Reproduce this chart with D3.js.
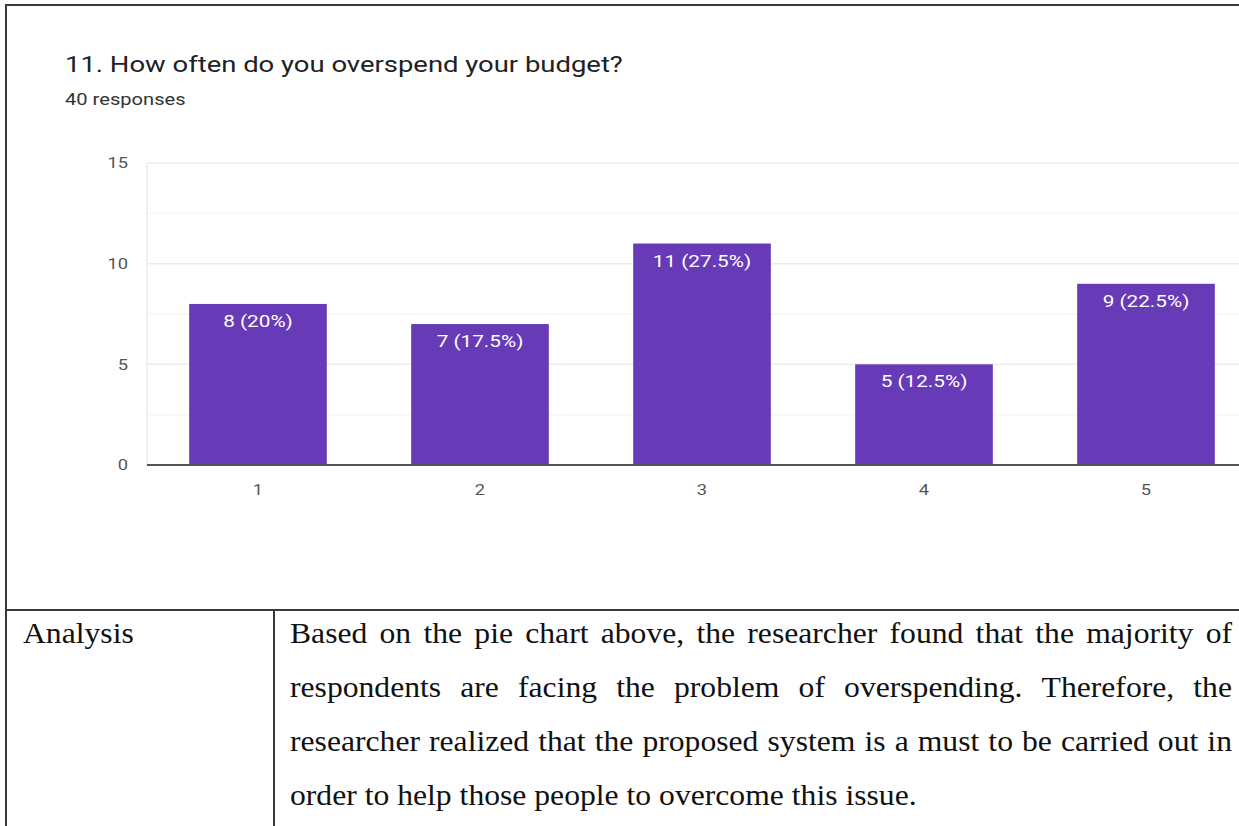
<!DOCTYPE html>
<html>
<head>
<meta charset="utf-8">
<script src="https://cdn.jsdelivr.net/npm/d3@7"></script>
<style>
  html, body { margin: 0; padding: 0; background: #fff; }
  svg { display: block; }
</style>
</head>
<body>
<svg id="chart" width="1239" height="826"></svg>
<script>
// Survey question and responses
const questionTitle = "11. How often do you overspend your budget?";
const responseNote = "40 responses";
const categories = ["1", "2", "3", "4", "5"];
const counts = [8, 7, 11, 5, 9];
const percents = ["20%", "17.5%", "27.5%", "12.5%", "22.5%"];
const yTicks = [0, 5, 10, 15];
const yMinorTicks = [2.5, 7.5, 12.5];

// Analysis table text
const rowHeader = "Analysis";
const analysisLines = [
  "Based on the pie chart above, the researcher found that the majority of",
  "respondents are facing the problem of overspending. Therefore, the",
  "researcher realized that the proposed system is a must to be carried out in",
  "order to help those people to overcome this issue."
];

const svg = d3.select("#chart");
const W = 1239, H = 826;
const sans = "Roboto, 'Open Sans', sans-serif";
const stretch = 1.22; // the embedded form screenshot is wider than tall

// Places a text horizontally stretched around its own anchor
function stretchedText(parent, px, py, sx) {
  return parent.append("g")
    .attr("transform", `translate(${px},${py}) scale(${sx},1)`)
    .append("text");
}

// Outer frame lines
const frame = svg.append("g").attr("stroke", "#3a3a3a").attr("stroke-width", 2);
frame.append("line").attr("x1", 6).attr("x2", W).attr("y1", 5).attr("y2", 5);
frame.append("line").attr("x1", 6).attr("x2", 6).attr("y1", 4).attr("y2", H);
frame.append("line").attr("x1", 6).attr("x2", W).attr("y1", 610).attr("y2", 610);
frame.append("line").attr("x1", 274).attr("x2", 274).attr("y1", 610).attr("y2", H);

// Titles
stretchedText(svg, 65, 72, stretch)
  .attr("font-family", sans)
  .attr("font-size", 22.5)
  .attr("fill", "#202124")
  .text(questionTitle);
stretchedText(svg, 65, 105, stretch)
  .attr("font-family", sans)
  .attr("font-size", 16.5)
  .attr("fill", "#333")
  .text(responseNote);

// Scales
const plotLeft = 147, plotTop = 163, plotBottom = 465;
const x = d3.scaleBand()
  .domain(categories)
  .range([plotLeft, plotLeft + 222 * 5])
  .paddingInner(0.38)
  .paddingOuter(0.19);
const y = d3.scaleLinear().domain([0, 15]).range([plotBottom, plotTop]);

// Gridlines
const grid = svg.append("g");
grid.selectAll("line.minor")
  .data(yMinorTicks)
  .join("line")
  .attr("class", "minor")
  .attr("x1", plotLeft).attr("x2", W)
  .attr("y1", d => y(d)).attr("y2", d => y(d))
  .attr("stroke", "#f6f6f6").attr("stroke-width", 1.5);
grid.selectAll("line.major")
  .data(yTicks.filter(d => d > 0))
  .join("line")
  .attr("class", "major")
  .attr("x1", plotLeft).attr("x2", W)
  .attr("y1", d => y(d)).attr("y2", d => y(d))
  .attr("stroke", "#ececec").attr("stroke-width", 1.5);
grid.append("line")
  .attr("x1", plotLeft).attr("x2", plotLeft)
  .attr("y1", plotTop).attr("y2", plotBottom)
  .attr("stroke", "#ececec").attr("stroke-width", 1.5);

// Y axis labels
svg.append("g")
  .selectAll("g")
  .data(yTicks)
  .join("g")
  .attr("transform", d => `translate(${plotLeft - 19},${y(d)}) scale(${stretch},1)`)
  .append("text")
  .attr("dy", "0.35em")
  .attr("text-anchor", "end")
  .attr("font-family", sans)
  .attr("font-size", 15)
  .attr("fill", "#555")
  .text(d => d);

// Bars
const data = categories.map((c, i) => ({ c, v: counts[i], p: percents[i] }));
svg.append("g")
  .selectAll("rect")
  .data(data)
  .join("rect")
  .attr("x", d => x(d.c))
  .attr("y", d => y(d.v))
  .attr("width", x.bandwidth())
  .attr("height", d => y(0) - y(d.v))
  .attr("fill", "#673ab7");

// Value labels inside bars
svg.append("g")
  .selectAll("g")
  .data(data)
  .join("g")
  .attr("transform", d => `translate(${x(d.c) + x.bandwidth() / 2},${y(d.v) + 23}) scale(${stretch},1)`)
  .append("text")
  .attr("text-anchor", "middle")
  .attr("font-family", sans)
  .attr("font-size", 17)
  .attr("fill", "#fff")
  .text(d => `${d.v} (${d.p})`);

// X axis labels and baseline
svg.append("g")
  .selectAll("g")
  .data(categories)
  .join("g")
  .attr("transform", d => `translate(${x(d) + x.bandwidth() / 2},${plotBottom + 30}) scale(${stretch},1)`)
  .append("text")
  .attr("text-anchor", "middle")
  .attr("font-family", sans)
  .attr("font-size", 15)
  .attr("fill", "#555")
  .text(d => d);
svg.append("line")
  .attr("x1", plotLeft).attr("x2", W)
  .attr("y1", plotBottom).attr("y2", plotBottom)
  .attr("stroke", "#555").attr("stroke-width", 2);

// Table text
const serif = "'Liberation Serif', 'Times New Roman', serif";
const serifStretch = 1.055;
stretchedText(svg, 23, 643, serifStretch)
  .attr("font-family", serif)
  .attr("font-size", 30)
  .attr("fill", "#111")
  .text(rowHeader);

// Justified paragraph: every line but the last is stretched to the column width
const paraLeft = 290, paraRight = 1232, lineGap = 54, firstBase = 643;
const para = svg.append("g")
  .attr("transform", `translate(${paraLeft},0) scale(${serifStretch},1)`)
  .attr("font-family", serif)
  .attr("font-size", 30)
  .attr("fill", "#111");
const colWidth = (paraRight - paraLeft) / serifStretch;
analysisLines.forEach((line, li) => {
  const words = line.split(" ");
  const base = firstBase + li * lineGap;
  const nodes = words.map(w => para.append("text").attr("y", base).text(w));
  const widths = nodes.map(n => n.node().getComputedTextLength());
  const total = d3.sum(widths);
  const last = li === analysisLines.length - 1;
  const gap = last ? 7.5 : (colWidth - total) / (words.length - 1);
  let cx = 0;
  nodes.forEach((n, i) => {
    n.attr("x", cx);
    cx += widths[i] + gap;
  });
});
</script>
</body>
</html>
